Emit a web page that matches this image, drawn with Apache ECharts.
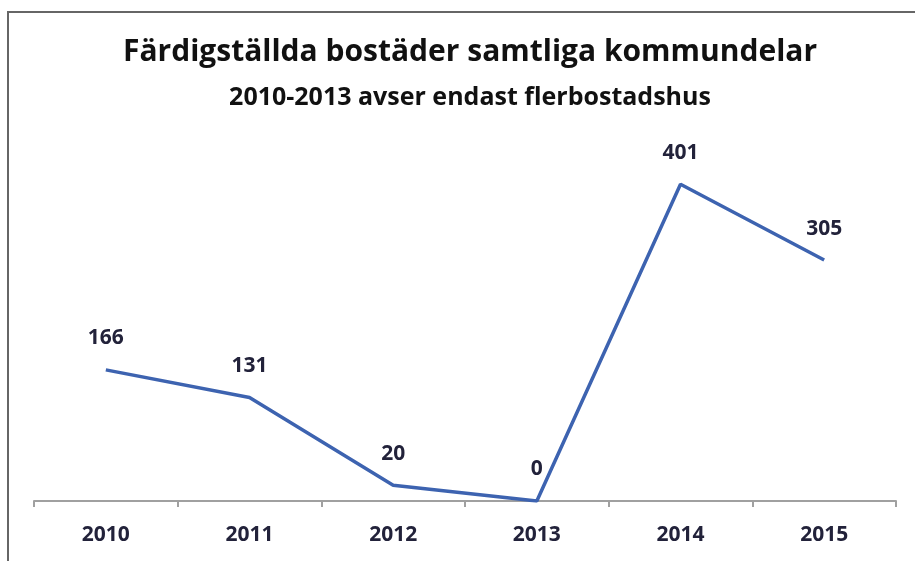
<!DOCTYPE html>
<title>bostader</title>
<style>
body {margin: 0; background: #fff;}
#echart {height: 561px; width: 915px;}
</style>
<div id='echart'></div>
<script src='https://cdn.jsdelivr.net/npm/echarts@6/dist/echarts.min.js'></script>
<script>
let years = ['2010', '2011', '2012', '2013', '2014', '2015']
let completed = [166, 131, 20, 0, 401, 305]

let font = '"Open Sans", Lato, sans-serif'
let echart = echarts.init(document.querySelector('#echart'))
let option = {
	animation: false,
	title: {
		text: 'Färdigställda bostäder samtliga kommundelar',
		subtext: '2010-2013 avser endast flerbostadshus',
		left: 465, top: 32, textAlign: 'center', itemGap: 18,
		textStyle: {fontFamily: font, fontSize: 30, fontWeight: 'bold', color: '#111'},
		subtextStyle: {fontFamily: font, fontSize: 25, fontWeight: 'bold', color: '#111'},
	},
	graphic: [
		{type: 'rect', shape: {x: 8, y: 12, width: 930, height: 580}, style: {fill: 'none', stroke: '#666', lineWidth: 2}},
	],
	grid: {left: 34, right: 19, top: 106, bottom: 60},
	xAxis: {
		type: 'category', data: years, boundaryGap: true,
		axisLine: {lineStyle: {color: '#a0a0a0', width: 2}},
		axisTick: {show: true, length: 6, lineStyle: {color: '#a0a0a0', width: 2}},
		axisLabel: {margin: 24, fontFamily: font, fontSize: 21, fontWeight: 'bold', color: '#22223a'},
	},
	yAxis: {type: 'value', min: 0, max: 500, show: false, splitLine: {show: false}},
	series: [
		{
			type: 'line', data: completed, showSymbol: true, symbol: 'circle', symbolSize: 2,
			itemStyle: {color: 'rgba(0,0,0,0)'},
			lineStyle: {color: '#3d63b0', width: 3.5},
			label: {show: true, position: 'top', distance: 20, fontFamily: font, fontSize: 21, fontWeight: 'bold', color: '#22223a'},
		},
	],
}
echart.setOption(option)
</script>
